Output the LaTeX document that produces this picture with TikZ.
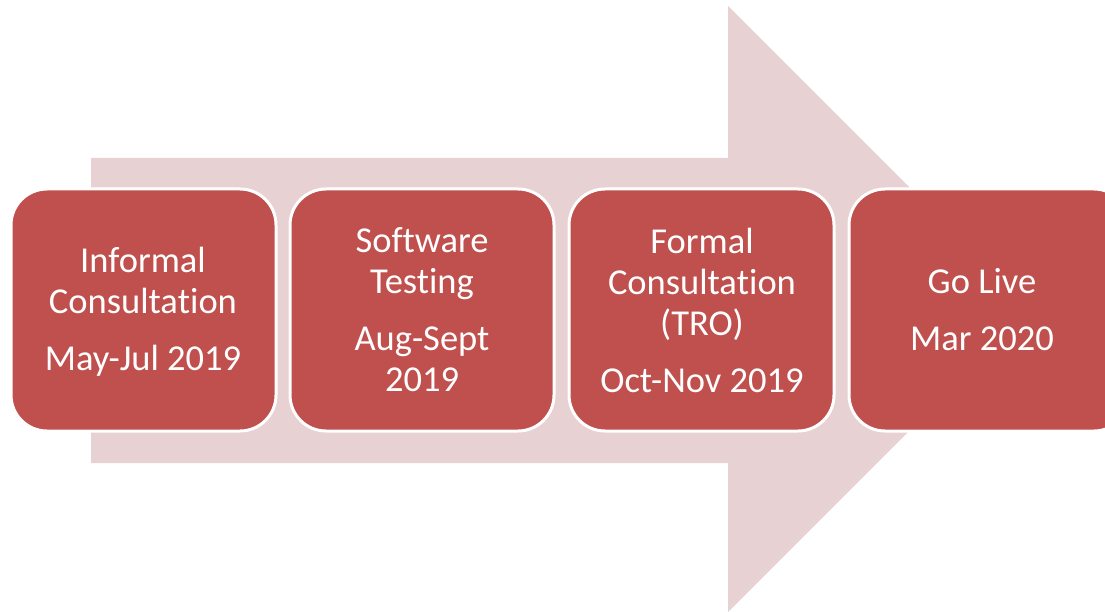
\documentclass[tikz,border=0pt]{standalone}
\usepackage{fontspec}
\setmainfont[RawFeature={-liga;-clig;-calt;-dlig}]{Carlito}
\definecolor{boxred}{HTML}{C0504D}
\definecolor{arrowpink}{HTML}{E7D1D2}
\begin{document}
\begin{tikzpicture}[x=1pt,y=-1pt,
  stage/.style={draw=white, line width=3pt, fill=boxred, rounded corners=36pt},
  lbl/.style={text=white, align=center, font=\fontsize{36.5}{41}\selectfont, inner sep=0pt}]
\useasboundingbox (0,0) rectangle (1105,612);
\clip (0,0) rectangle (1105,612);
\fill[arrowpink] (91,158) -- (728,158) -- (728,6) -- (1031,309) -- (728,612) -- (728,463) -- (91,463) -- cycle;
\draw[stage] (11,189) rectangle (276,431);
\draw[stage] (290,189) rectangle (554,431);
\draw[stage] (569,189) rectangle (834,431);
\draw[stage] (849,189) rectangle (1130,431);
\node[lbl] (s1) at (143,312) {Informal\\Consulta\kern0pt tion\\[16pt]May-Jul 2019};
\node[lbl] (s2) at (422,310) {Software\\Testing\\[16pt]Aug-Sept\\2019};
\node[lbl] (s3) at (702,310) {Formal\\Consulta\kern0pt tion\\(TRO)\\[16pt]Oct-Nov 2019};
\node[lbl] (s4) at (982,310) {Go Live\\[16pt]Mar 2020};
\end{tikzpicture}
\end{document}
